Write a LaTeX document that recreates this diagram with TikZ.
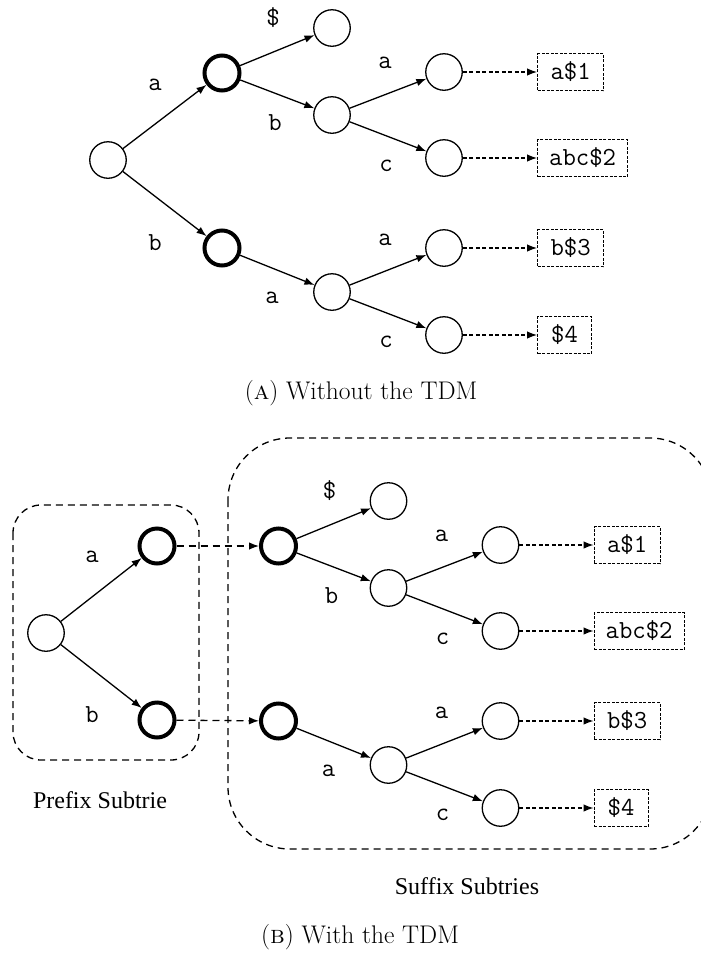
\documentclass[tikz,border=0pt]{standalone}
\usepackage{fontspec}
\newfontfamily\serf{Liberation Serif}
\usetikzlibrary{arrows.meta}
\tikzset{
 tnode/.style={circle,draw,line width=1.3pt,minimum size=36.5pt,inner sep=0pt},
 bnode/.style={circle,draw,line width=4pt,minimum size=35pt,inner sep=0pt},
 trieedge/.style={line width=1.3pt,-{Latex[length=10pt,width=7.5pt]}},
 leafarrow/.style={line width=1.2pt,dash pattern=on 4pt off 2.5pt,-{Latex[length=10pt,width=7.5pt]}},
 linkarrow/.style={line width=1.3pt,dash pattern=on 7pt off 5pt,-{Latex[length=10pt,width=7.5pt]}},
 leafbox/.style={draw,line width=1.2pt,dash pattern=on 3pt off 1.5pt,minimum height=37pt,inner sep=0pt,anchor=west,font=\ttfamily\fontsize{26}{30}\selectfont},
 lbl/.style={inner sep=0pt,font=\ttfamily\fontsize{26}{30}\selectfont},
 grouplbl/.style={inner sep=0pt,font=\serf\fontsize{24}{28}\selectfont},
 caption/.style={inner sep=0pt,font=\fontsize{25.5}{30}\selectfont},
 groupbox/.style={line width=1.3pt,dash pattern=on 7pt off 5pt},
}
\newcommand{\mytrie}[1]{%
 \node[bnode] (#1ba) at (222,73) {};
 \node[bnode] (#1bb) at (222,248) {};
 \node[tnode] (#1d) at (332,28) {};
 \node[tnode] (#1nb) at (332,115) {};
 \node[tnode] (#1ca) at (444,72) {};
 \node[tnode] (#1cc) at (444,158) {};
 \node[tnode] (#1na) at (332,292) {};
 \node[tnode] (#1la) at (444,248) {};
 \node[tnode] (#1lc) at (444,335) {};
 \node[leafbox,minimum width=66pt] (#1x1) at (537,72) {a\$1};
 \node[leafbox,minimum width=90pt] (#1x2) at (537,158) {abc\$2};
 \node[leafbox,minimum width=66pt] (#1x3) at (537,248) {b\$3};
 \node[leafbox,minimum width=54pt] (#1x4) at (537,335) {\$4};
 \draw[trieedge] (#1ba) -- (#1d);
 \draw[trieedge] (#1ba) -- (#1nb);
 \draw[trieedge] (#1nb) -- (#1ca);
 \draw[trieedge] (#1nb) -- (#1cc);
 \draw[trieedge] (#1bb) -- (#1na);
 \draw[trieedge] (#1na) -- (#1la);
 \draw[trieedge] (#1na) -- (#1lc);
 \draw[leafarrow] (#1ca) -- (#1x1);
 \draw[leafarrow] (#1cc) -- (#1x2);
 \draw[leafarrow] (#1la) -- (#1x3);
 \draw[leafarrow] (#1lc) -- (#1x4);
 \node[lbl] (#1ld) at (273,18) {\$};
 \node[lbl] (#1lb) at (275,123) {b};
 \node[lbl] (#1lua) at (385,63) {a};
 \node[lbl] (#1luc) at (386,166) {c};
 \node[lbl] (#1lna) at (272,298) {a};
 \node[lbl] (#1lla) at (385,240) {a};
 \node[lbl] (#1llc) at (386,342) {c};
}
\begin{document}
\begin{tikzpicture}[x=1pt,y=-1pt]
\clip (0,0) rectangle (701,954);
% (A)
\node[tnode] (ar) at (108,160) {};
\mytrie{a}
\draw[trieedge] (ar) -- (aba);
\draw[trieedge] (ar) -- (abb);
\node[lbl] (ara) at (155,85) {a};
\node[lbl] (arb) at (155,243) {b};
\node[caption] (capa) at (361,393) {(\textsc{a}) Without the TDM};
% (B)
\draw[groupbox,rounded corners=28pt] (13,505) rectangle (199,760);
\draw[groupbox,rounded corners=62pt] (228,438) rectangle (712,849);
\node[tnode] (br) at (46,633) {};
\node[bnode] (bpa) at (157,546) {};
\node[bnode] (bpb) at (157,720) {};
\draw[trieedge] (br) -- (bpa);
\draw[trieedge] (br) -- (bpb);
\node[lbl] (bra) at (92,557) {a};
\node[lbl] (brb) at (92,715) {b};
\begin{scope}[shift={(56.5,473)}]
\mytrie{b}
\end{scope}
\draw[linkarrow] (bpa) -- (bba);
\draw[linkarrow] (bpb) -- (bbb);
\node[grouplbl] (pfx) at (100,800) {Prefix Subtrie};
\node[grouplbl] (sfx) at (467,886) {Suffix Subtries};
\node[caption] (capb) at (360,937) {(\textsc{b}) With the TDM};
\end{tikzpicture}
\end{document}
